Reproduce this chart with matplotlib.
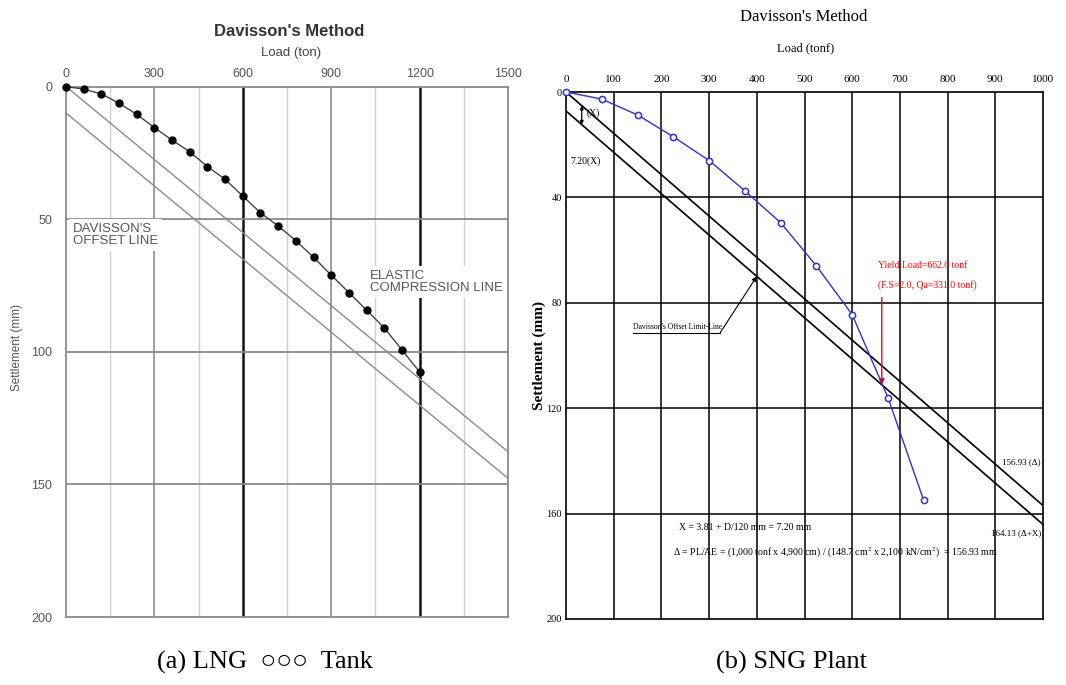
import matplotlib
matplotlib.use("Agg")
import matplotlib.pyplot as plt
from matplotlib.lines import Line2D

W, H = 1066, 685

# ---------------- data: (a) LNG tank load test ----------------
tank_load = [0, 60, 120, 180, 240, 300, 360, 420, 480, 540, 600,
             660, 720, 780, 840, 900, 960, 1020, 1080, 1140, 1200]
tank_settle = [0.0, 1.0, 2.8, 6.3, 10.5, 15.5, 20.2, 24.6, 30.2, 35.0, 41.3,
               47.6, 52.6, 58.1, 64.4, 71.1, 77.7, 84.3, 91.0, 99.3, 107.6]
tank_line_load = [0, 1500]
tank_elastic_settle = [0.0, 137.7]
tank_offset_settle = [10.0, 147.7]
tank_xticks = [0, 300, 600, 900, 1200, 1500]
tank_yticks = [0, 50, 100, 150, 200]

# ---------------- data: (b) SNG plant load test ----------------
sng_load = [0, 75, 150, 225, 300, 375, 450, 525, 600, 675, 750]
sng_settle = [0.0, 2.7, 8.7, 17.0, 26.0, 37.5, 49.6, 66.0, 84.5, 116.0, 155.0]
sng_offset_x = 7.20          # mm
sng_delta = 156.93           # mm at 1,000 tonf
sng_line_load = [0, 1000]
sng_yield_load = 662.0
sng_xticks = [0, 100, 200, 300, 400, 500, 600, 700, 800, 900, 1000]
sng_yticks = [0, 40, 80, 120, 160, 200]

sng_elastic = [sng_delta * p / 1000 for p in sng_line_load]
sng_offset = [sng_offset_x + sng_delta * p / 1000 for p in sng_line_load]


def fx(px):
    return px / W


def fy(py):
    return 1 - py / H


plt.rcParams["mathtext.fontset"] = "stix"
fig = plt.figure(figsize=(W / 100, H / 100), dpi=100)
fig.patch.set_facecolor("white")

SANS = "Liberation Sans"
SERIF = "Liberation Serif"

# =============== left panel ===============
axL = fig.add_axes([fx(66), fy(617), (508 - 66) / W, (617 - 86.5) / H])
axL.set_xlim(0, 1500)
axL.set_ylim(200, 0)

light, mid, dark = "#cfcfcf", "#8a8a8a", "#111111"
for v in [150, 450, 750, 1050, 1350]:
    axL.axvline(v, color=light, lw=1.0, zorder=1)
for v in [300, 900]:
    axL.axvline(v, color=mid, lw=1.2, zorder=1)
for v in [600, 1200]:
    axL.axvline(v, color=dark, lw=1.8, zorder=1)
for h in [50, 100, 150]:
    axL.axhline(h, color=mid, lw=1.3, zorder=1)
for s in axL.spines.values():
    s.set_color(mid)
    s.set_linewidth(1.3)

axL.plot(tank_line_load, tank_elastic_settle, color="#8a8a8a", lw=1.0, zorder=2)
axL.plot(tank_line_load, tank_offset_settle, color="#8a8a8a", lw=1.0, zorder=2)
axL.plot(tank_load, tank_settle, color="#444444", lw=1.0, marker="o",
         markersize=5, markerfacecolor="black", markeredgecolor="black",
         zorder=4, clip_on=False)

axL.xaxis.tick_top()
axL.set_xticks(tank_xticks)
axL.set_xticklabels([str(t) for t in tank_xticks])
axL.set_yticks(tank_yticks)
axL.set_yticklabels([str(t) for t in tank_yticks])
axL.tick_params(axis="x", length=0, pad=5, labelsize=9, labelcolor="#555555")
axL.tick_params(axis="y", length=0, pad=10, labelsize=9, labelcolor="#555555")
for lab in axL.get_xticklabels() + axL.get_yticklabels():
    lab.set_family(SANS)

box = dict(facecolor="white", edgecolor="none", pad=3)
fig.text(fx(73), fy(235), "DAVISSON'S\nOFFSET LINE", family=SANS, fontsize=9.5,
         color="#555555", ha="left", va="center", linespacing=1.05, bbox=box,
         zorder=5)
fig.text(fx(370), fy(282), "ELASTIC\nCOMPRESSION LINE", family=SANS,
         fontsize=9.5, color="#555555", ha="left", va="center",
         linespacing=1.05, bbox=box, zorder=5)

fig.text(fx(289), fy(31), "Davisson's Method", family=SANS, fontsize=12,
         fontweight="bold", color="#333333", ha="center", va="center")
fig.text(fx(291), fy(53), "Load (ton)", family=SANS, fontsize=9.5,
         color="#444444", ha="center", va="center")
fig.text(fx(17), fy(347), "Settlement (mm)", family=SANS, fontsize=8.5,
         color="#555555", ha="center", va="center", rotation=90)

# =============== right panel ===============
axR = fig.add_axes([fx(566), fy(619), (1043 - 566) / W, (619 - 92) / H])
axR.set_xlim(0, 1000)
axR.set_ylim(200, 0)
for v in sng_xticks[1:-1]:
    axR.axvline(v, color="black", lw=1.1, zorder=1)
for h in sng_yticks[1:-1]:
    axR.axhline(h, color="black", lw=1.1, zorder=1)
for s in axR.spines.values():
    s.set_color("black")
    s.set_linewidth(1.2)

axR.plot(sng_line_load, sng_elastic, color="black", lw=1.2, zorder=2)
axR.plot(sng_line_load, sng_offset, color="black", lw=1.2, zorder=2)
axR.plot(sng_load, sng_settle, color="#3030d0", lw=1.0, marker="o",
         markersize=4.5, markerfacecolor="white", markeredgecolor="#3030d0",
         markeredgewidth=1.1, zorder=4, clip_on=False)

axR.xaxis.tick_top()
axR.set_xticks(sng_xticks)
axR.set_xticklabels([str(t) for t in sng_xticks])
axR.set_yticks(sng_yticks)
axR.set_yticklabels([str(t) for t in sng_yticks])
axR.tick_params(axis="x", length=0, pad=6, labelsize=8, labelcolor="black")
axR.tick_params(axis="y", length=0, pad=3, labelsize=7.5, labelcolor="black")
for lab in axR.get_xticklabels() + axR.get_yticklabels():
    lab.set_family(SERIF)

# offset marker X between the two lines
p_mark = 33
axR.annotate("", xy=(p_mark, sng_delta * p_mark / 1000),
             xytext=(p_mark, sng_offset_x + sng_delta * p_mark / 1000),
             arrowprops=dict(arrowstyle="<|-|>", lw=0.9, color="black",
                             mutation_scale=5, shrinkA=0, shrinkB=0))
fig.text(fx(587), fy(113), "(X)", family=SERIF, fontsize=7, ha="left",
         va="center")
fig.text(fx(570), fy(161), "7.20(X)", family=SERIF, fontsize=7, ha="left",
         va="center")

# yield load annotation
yield_settle = sng_offset_x + sng_delta * sng_yield_load / 1000
axR.annotate("", xy=(sng_yield_load, yield_settle), xytext=(sng_yield_load, 78),
             arrowprops=dict(arrowstyle="-|>", lw=1.0, color="red",
                             mutation_scale=8, shrinkA=0, shrinkB=0))
fig.text(fx(878), fy(265), "Yield Load=662.0 tonf", family=SERIF, fontsize=7,
         color="red", ha="left", va="center")
fig.text(fx(878), fy(285), "(F.S=2.0, Qa=331.0 tonf)", family=SERIF,
         fontsize=7, color="red", ha="left", va="center")

# offset limit line label with underline and pointer
fig.text(fx(633), fy(327), "Davisson's Offset Limit-Line", family=SERIF,
         fontsize=5.5, ha="left", va="center")
fig.add_artist(Line2D([fx(633), fx(720)], [fy(333), fy(333)], color="black",
                      lw=0.8))
p_ptr = 400
axR.annotate("", xy=(p_ptr, sng_offset_x + sng_delta * p_ptr / 1000),
             xycoords="data", xytext=(fx(720), fy(333)),
             textcoords="figure fraction",
             arrowprops=dict(arrowstyle="-|>", lw=0.8, color="black",
                             mutation_scale=7, shrinkA=0, shrinkB=0))

fig.text(fx(1041), fy(462), "156.93 (\u0394)", family=SERIF, fontsize=6.5,
         ha="right", va="center")
fig.text(fx(1041), fy(533), "164.13 (\u0394+X)", family=SERIF, fontsize=6.5,
         ha="right", va="center")

fig.text(fx(679), fy(528), "X = 3.81 + D/120 mm = 7.20 mm", family=SERIF,
         fontsize=7, ha="left", va="center")
fig.text(fx(673), fy(553),
         "\u0394 = PL/AE = (1,000 tonf x 4,900 cm) / (148.7 cm$^{2}$ x "
         "2,100 kN/cm$^{2}$)  = 156.93 mm",
         family=SERIF, fontsize=7, ha="left", va="center")

fig.text(fx(804), fy(17), "Davisson's Method", family=SERIF, fontsize=12,
         ha="center", va="center")
fig.text(fx(806), fy(48), "Load (tonf)", family=SERIF, fontsize=9,
         ha="center", va="center")
fig.text(fx(539), fy(356), "Settlement (mm)", family=SERIF, fontsize=11,
         fontweight="bold", ha="center", va="center", rotation=90)

# captions
fig.text(fx(265), fy(662), "(a) LNG  \u25cb\u25cb\u25cb  Tank",
         family=[SERIF, "DejaVu Sans"], fontsize=19, ha="center", va="center")
fig.text(fx(792), fy(662), "(b) SNG Plant", family=SERIF, fontsize=19,
         ha="center", va="center")

fig.savefig("out.png", dpi=100, facecolor="white")
